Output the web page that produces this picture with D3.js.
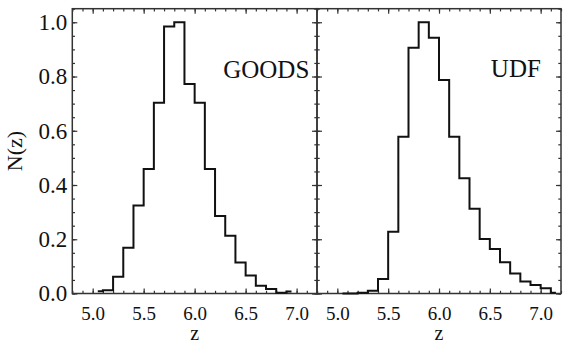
<!DOCTYPE html>
<html><head><meta charset="utf-8">
<script src="https://cdn.jsdelivr.net/npm/d3@7"></script>
<style>
body{margin:0;background:#fff}
</style>
</head><body><svg id="c" width="563" height="343"></svg>
<script>
// ---- data ----
const goodsZ = [5.05,5.15,5.25,5.35,5.45,5.55,5.65,5.75,5.85,5.95,6.05,6.15,6.25,6.35,6.45,6.55,6.65,6.75,6.85,6.95];
const goodsN = [0.008,0.012,0.062,0.169,0.324,0.459,0.703,0.984,1.0,0.772,0.703,0.459,0.286,0.213,0.114,0.066,0.029,0.017,0.003,0.007];
const udfZ = [5.05,5.15,5.25,5.35,5.45,5.55,5.65,5.75,5.85,5.95,6.05,6.15,6.25,6.35,6.45,6.55,6.65,6.75,6.85,6.95,7.05,7.15];
const udfN = [0.0,0.0,0.003,0.010,0.053,0.228,0.578,0.906,1.0,0.943,0.787,0.578,0.425,0.312,0.201,0.164,0.115,0.074,0.044,0.031,0.019,0.003];
const xMajor = [5.0,5.5,6.0,6.5,7.0];
const yMajor = [0.0,0.2,0.4,0.6,0.8,1.0];
const panelNames = ["GOODS","UDF"];
const xTitle = "z";
const yTitle = "N(z)";

// ---- layout ----
const FONT = "'Liberation Serif', 'Times New Roman', Times, serif";
const svg = d3.select("#c");
const plotTop = 8.7, plotBottom = 293.5;
const panels = [
  {x0:72.3, x1:317, z:goodsZ, n:goodsN, name:panelNames[0], lx:6.28, ly:0.795},
  {x0:317, x1:561, z:udfZ, n:udfN, name:panelNames[1], lx:6.51, ly:0.797}
];
const y = d3.scaleLinear().domain([0,1.05]).range([plotBottom, plotTop]);
const xMinor = d3.range(48,73).map(d=>d/10);
const yMinor = d3.range(0,22).map(d=>d*0.05);
const MAJ = 5, MIN = 2.7;

function styleAxis(size){
  return g => {
    g.attr("font-family",null).attr("font-size",null);
    g.select(".domain").remove();
    g.selectAll(".tick line").attr("stroke","#333").attr("stroke-width",1.2);
    g.selectAll(".tick text").style("font-family",FONT).style("font-size",size+"px").attr("fill","#111");
  };
}

panels.forEach((p,i)=>{
  const x = d3.scaleLinear().domain([4.8,7.2]).range([p.x0,p.x1]);
  svg.append("g").attr("transform",`translate(0,${plotBottom})`)
    .call(d3.axisBottom(x).tickValues(xMajor).tickSize(-MAJ).tickPadding(13).tickFormat(d3.format(".1f"))).call(styleAxis(19));
  svg.append("g").attr("transform",`translate(0,${plotBottom})`)
    .call(d3.axisBottom(x).tickValues(xMinor).tickSize(-MIN).tickFormat("")).call(styleAxis(19));
  svg.append("g").attr("transform",`translate(0,${plotTop})`)
    .call(d3.axisTop(x).tickValues(xMajor).tickSize(-MAJ).tickFormat("")).call(styleAxis(19));
  svg.append("g").attr("transform",`translate(0,${plotTop})`)
    .call(d3.axisTop(x).tickValues(xMinor).tickSize(-MIN).tickFormat("")).call(styleAxis(19));
  svg.append("g").attr("transform",`translate(${p.x0},0)`)
    .call(d3.axisLeft(y).tickValues(yMajor).tickSize(-MAJ).tickPadding(5)
      .tickFormat(i===0 ? d3.format(".1f") : "")).call(styleAxis(23));
  svg.append("g").attr("transform",`translate(${p.x0},0)`)
    .call(d3.axisLeft(y).tickValues(yMinor).tickSize(-MIN).tickFormat("")).call(styleAxis(23));
  svg.append("g").attr("transform",`translate(${p.x1},0)`)
    .call(d3.axisRight(y).tickValues(yMajor).tickSize(-MAJ).tickFormat("")).call(styleAxis(23));
  svg.append("g").attr("transform",`translate(${p.x1},0)`)
    .call(d3.axisRight(y).tickValues(yMinor).tickSize(-MIN).tickFormat("")).call(styleAxis(23));
  svg.append("rect").attr("x",p.x0).attr("y",plotTop).attr("width",p.x1-p.x0).attr("height",plotBottom-plotTop)
    .attr("fill","none").attr("stroke","#333").attr("stroke-width",1.5);
  const pts = p.z.map((z,k)=>[z,p.n[k]]);
  svg.append("path").datum(pts)
    .attr("d", d3.line().x(d=>x(d[0])).y(d=>y(d[1])).curve(d3.curveStep))
    .attr("fill","none").attr("stroke","#111").attr("stroke-width",2);
  svg.append("text").attr("x",x(p.lx)).attr("y",y(p.ly)).style("font-family",FONT).style("font-size","25px").attr("fill","#111").text(p.name);
  svg.append("text").attr("x",x(6.0)).attr("y",340).attr("text-anchor","middle").style("font-family",FONT).style("font-size","20px").attr("fill","#111").text(xTitle);
});

svg.append("text").attr("transform",`translate(22,${(plotTop+plotBottom)/2}) rotate(-90)`)
  .attr("text-anchor","middle").style("font-family",FONT).style("font-size","22px").attr("fill","#111").text(yTitle);
</script>
</body></html>
